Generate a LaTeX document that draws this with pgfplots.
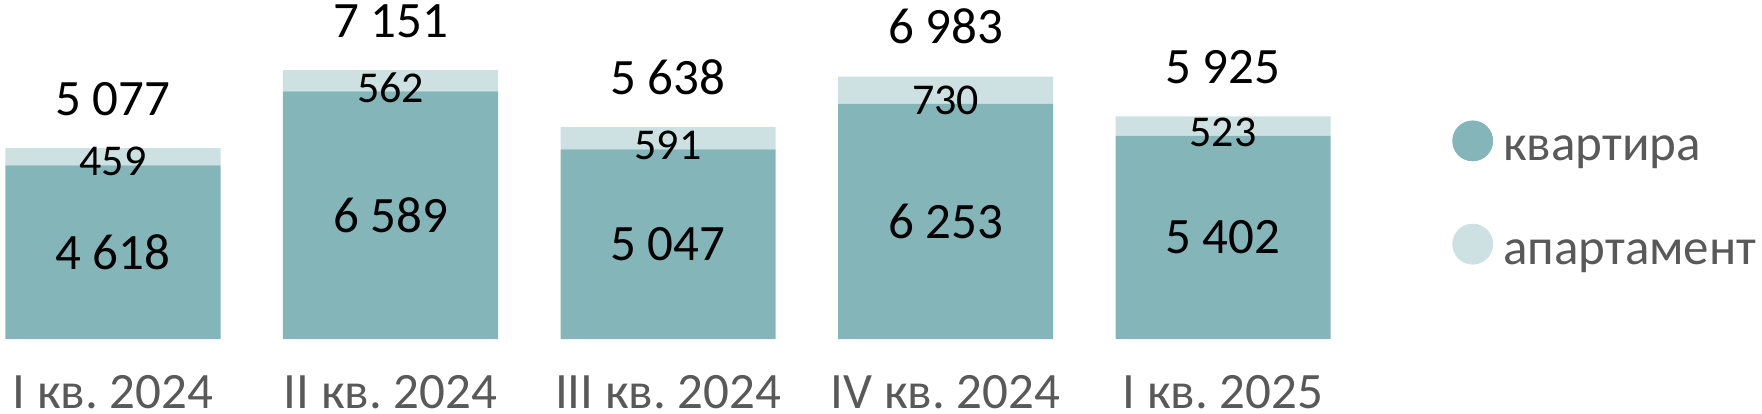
\documentclass[border=0pt]{standalone}
\usepackage{pgfplots}
\pgfplotsset{compat=1.18}
\usepackage{fontspec}
\setmainfont{Carlito}
\frenchspacing

\definecolor{kv}{HTML}{84B5B9}
\definecolor{ap}{HTML}{CDE1E3}
\definecolor{lbl}{HTML}{595959}

\newcommand{\bigfnt}{\fontsize{25.5}{30}\selectfont}
\newcommand{\smallfnt}{\fontsize{22}{26}\selectfont}

\pgfplotsset{
  base/.style={
    width=881pt, height=169.5pt, scale only axis,
    xmin=-0.4072, xmax=5.942, ymin=0, ymax=9012,
    axis line style={draw=none}, clip=false,
    ytick=\empty,
  },
  lab/.style={forget plot, draw=none, mark=none, nodes near coords, point meta=explicit symbolic},
}

\begin{document}
\begin{tikzpicture}
% stacked bars
\begin{axis}[base,
    ybar stacked, bar width=0.775,
    xtick={0,1,2,3,4},
    xticklabels={I кв. 2024, II кв. 2024, III кв. 2024, IV кв. 2024, I кв. 2025},
    major tick length=0pt,
    xticklabel style={font=\bigfnt, text=lbl, anchor=base, inner ysep=2.5pt, yshift=-34.5pt},
  ]
  \addplot[fill=kv, draw=none] coordinates {(0,4618) (1,6589) (2,5047) (3,6253) (4,5402)};
  \addplot[fill=ap, draw=none] coordinates {(0,459) (1,562) (2,591) (3,730) (4,523)};
\end{axis}
% value labels and legend
\begin{axis}[base, xtick=\empty,
    legend style={at={(0.8240,0.426)}, anchor=west, draw=none, fill=none, inner sep=0pt,
      font=\bigfnt, text=lbl, row sep=29pt, column sep=4pt,
      nodes={inner sep=1pt}},
    legend cell align=left,
    every node near coord/.append style={inner sep=0pt},
  ]
  \addplot[lab, every node near coord/.append style={anchor=center, font=\bigfnt}]
    coordinates {(0,2309) [4~618] (1,3294.5) [6~589] (2,2523.5) [5~047] (3,3126.5) [6~253] (4,2701) [5~402]};
  \addplot[lab, every node near coord/.append style={anchor=center, yshift=2pt, font=\smallfnt}]
    coordinates {(0,4618) [459] (1,6589) [562] (2,5047) [591] (3,6253) [730] (4,5402) [523]};
  \addplot[lab, every node near coord/.append style={anchor=base, yshift=16.5pt, font=\bigfnt}]
    coordinates {(0,5077) [5~077] (1,7151) [7~151] (2,5638) [5~638] (3,6983) [6~983] (4,5925) [5~925]};
  \addlegendimage{legend image code/.code={\fill[kv] (10pt,4.5pt) circle (10pt);}}
  \addlegendentry{квартира}
  \addlegendimage{legend image code/.code={\fill[ap] (10pt,4.5pt) circle (10pt);}}
  \addlegendentry{апартамент}
\end{axis}
\end{tikzpicture}
\end{document}
